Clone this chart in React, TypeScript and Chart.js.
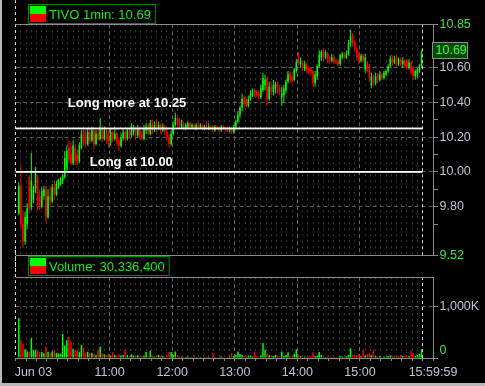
import { useEffect, useRef } from 'react';
import { Chart, registerables } from 'chart.js';

Chart.register(...registerables);

// ---------------- data ----------------
const symbolText = 'TIVO 1min: 10.69';
const volumeText = 'Volume: 30,336,400';
const lastPrice = 10.69;

// 2-minute candles starting 9:33 (minutes after 9:30)
const firstCandleMinute = 3;
const candleStepMinutes = 2;

const opens = [
  9.76, 9.92, 9.70, 9.60, 9.70, 9.97, 9.80, 9.84, 9.90, 9.97,
  9.86, 9.80, 9.86, 9.90, 9.74, 9.86, 9.83, 9.91, 9.87, 9.92,
  9.93, 9.95, 9.97, 10.02, 10.14, 10.10, 10.05, 10.14, 10.10, 10.06,
  10.14, 10.24, 10.22, 10.16, 10.23, 10.18, 10.24, 10.16, 10.22, 10.19,
  10.25, 10.19, 10.24, 10.22, 10.17, 10.23, 10.19, 10.22, 10.18, 10.15,
  10.20, 10.23, 10.19, 10.24, 10.21, 10.23, 10.25, 10.21, 10.25, 10.22,
  10.19, 10.24, 10.27, 10.22, 10.28, 10.24, 10.28, 10.25, 10.27, 10.24,
  10.26, 10.23, 10.20, 10.16, 10.22, 10.27, 10.31, 10.30, 10.26, 10.28,
  10.25, 10.26, 10.28, 10.26, 10.27, 10.25, 10.27, 10.26, 10.27, 10.25,
  10.26, 10.25, 10.26, 10.26, 10.24, 10.26, 10.25, 10.24, 10.26, 10.25,
  10.25, 10.24, 10.25, 10.23, 10.26, 10.29, 10.33, 10.37, 10.43, 10.42,
  10.38, 10.42, 10.44, 10.47, 10.46, 10.45, 10.43, 10.47, 10.50, 10.54,
  10.42, 10.49, 10.46, 10.48, 10.51, 10.48, 10.43, 10.44, 10.47, 10.52,
  10.57, 10.55, 10.53, 10.58, 10.68, 10.62, 10.63, 10.59, 10.62, 10.60,
  10.59, 10.58, 10.51, 10.55, 10.61, 10.66, 10.70, 10.66, 10.68, 10.66,
  10.64, 10.66, 10.64, 10.64, 10.62, 10.66, 10.68, 10.66, 10.68, 10.74,
  10.79, 10.75, 10.71, 10.68, 10.64, 10.67, 10.59, 10.63, 10.60, 10.50,
  10.55, 10.51, 10.56, 10.53, 10.56, 10.54, 10.56, 10.58, 10.61, 10.66,
  10.63, 10.66, 10.62, 10.65, 10.62, 10.64, 10.64, 10.60, 10.63, 10.60,
  10.55, 10.56, 10.58, 10.61,
];
const highs = [
  9.94, 10.04, 9.78, 9.77, 9.82, 9.98, 10.11, 9.92, 10.03, 9.98,
  9.90, 9.91, 9.92, 9.92, 9.90, 9.92, 9.93, 9.95, 9.95, 9.96,
  9.97, 9.99, 10.12, 10.15, 10.18, 10.17, 10.18, 10.16, 10.13, 10.17,
  10.24, 10.25, 10.24, 10.25, 10.25, 10.26, 10.25, 10.24, 10.25, 10.31,
  10.27, 10.26, 10.25, 10.24, 10.25, 10.24, 10.26, 10.23, 10.20, 10.22,
  10.25, 10.24, 10.25, 10.25, 10.28, 10.27, 10.26, 10.27, 10.26, 10.24,
  10.27, 10.28, 10.28, 10.30, 10.30, 10.29, 10.30, 10.29, 10.28, 10.28,
  10.27, 10.25, 10.22, 10.24, 10.29, 10.34, 10.32, 10.31, 10.30, 10.29,
  10.28, 10.29, 10.29, 10.28, 10.28, 10.28, 10.29, 10.28, 10.28, 10.27,
  10.29, 10.28, 10.27, 10.27, 10.27, 10.27, 10.26, 10.27, 10.27, 10.26,
  10.26, 10.26, 10.26, 10.27, 10.30, 10.35, 10.38, 10.45, 10.44, 10.43,
  10.44, 10.47, 10.48, 10.48, 10.47, 10.47, 10.50, 10.57, 10.56, 10.55,
  10.52, 10.52, 10.53, 10.52, 10.52, 10.50, 10.49, 10.50, 10.53, 10.58,
  10.58, 10.56, 10.60, 10.65, 10.69, 10.66, 10.64, 10.64, 10.63, 10.61,
  10.60, 10.59, 10.58, 10.62, 10.70, 10.70, 10.71, 10.70, 10.69, 10.67,
  10.68, 10.67, 10.65, 10.65, 10.68, 10.69, 10.69, 10.70, 10.76, 10.82,
  10.80, 10.76, 10.72, 10.69, 10.68, 10.68, 10.68, 10.64, 10.62, 10.57,
  10.56, 10.57, 10.57, 10.58, 10.57, 10.58, 10.59, 10.62, 10.67, 10.67,
  10.67, 10.67, 10.66, 10.66, 10.66, 10.65, 10.65, 10.65, 10.64, 10.61,
  10.59, 10.60, 10.62, 10.70,
];
const lows = [
  9.75, 9.68, 9.56, 9.58, 9.67, 9.76, 9.78, 9.82, 9.88, 9.78,
  9.78, 9.79, 9.84, 9.71, 9.73, 9.80, 9.82, 9.84, 9.86, 9.90,
  9.92, 9.93, 9.96, 10.00, 10.05, 10.04, 10.04, 10.04, 10.04, 10.05,
  10.13, 10.15, 10.14, 10.15, 10.16, 10.17, 10.13, 10.15, 10.18, 10.18,
  10.17, 10.18, 10.16, 10.14, 10.15, 10.17, 10.18, 10.15, 10.12, 10.14,
  10.18, 10.17, 10.18, 10.19, 10.20, 10.21, 10.19, 10.20, 10.19, 10.18,
  10.18, 10.22, 10.21, 10.21, 10.22, 10.23, 10.23, 10.24, 10.22, 10.23,
  10.21, 10.18, 10.14, 10.15, 10.21, 10.26, 10.26, 10.25, 10.25, 10.24,
  10.24, 10.25, 10.25, 10.25, 10.24, 10.24, 10.25, 10.25, 10.24, 10.24,
  10.24, 10.24, 10.24, 10.23, 10.23, 10.24, 10.23, 10.23, 10.24, 10.23,
  10.23, 10.23, 10.22, 10.22, 10.24, 10.28, 10.31, 10.35, 10.37, 10.37,
  10.37, 10.41, 10.43, 10.43, 10.43, 10.42, 10.42, 10.46, 10.47, 10.38,
  10.41, 10.44, 10.44, 10.45, 10.45, 10.44, 10.38, 10.40, 10.45, 10.51,
  10.51, 10.51, 10.52, 10.57, 10.61, 10.60, 10.58, 10.58, 10.57, 10.56,
  10.55, 10.49, 10.49, 10.53, 10.60, 10.64, 10.64, 10.65, 10.63, 10.62,
  10.63, 10.62, 10.62, 10.61, 10.61, 10.65, 10.65, 10.65, 10.67, 10.72,
  10.72, 10.69, 10.64, 10.62, 10.63, 10.63, 10.57, 10.57, 10.52, 10.48,
  10.49, 10.50, 10.51, 10.52, 10.53, 10.53, 10.55, 10.57, 10.60, 10.61,
  10.62, 10.61, 10.61, 10.61, 10.60, 10.60, 10.59, 10.59, 10.56, 10.53,
  10.53, 10.54, 10.57, 10.60,
];
const closes = [
  9.92, 9.70, 9.60, 9.74, 9.79, 9.79, 9.95, 9.90, 9.99, 9.82,
  9.80, 9.89, 9.90, 9.74, 9.86, 9.84, 9.91, 9.87, 9.93, 9.95,
  9.96, 9.98, 10.08, 10.12, 10.07, 10.05, 10.15, 10.06, 10.06, 10.15,
  10.22, 10.17, 10.16, 10.23, 10.18, 10.24, 10.16, 10.22, 10.19, 10.25,
  10.19, 10.24, 10.18, 10.17, 10.23, 10.19, 10.22, 10.17, 10.15, 10.20,
  10.23, 10.19, 10.24, 10.21, 10.26, 10.25, 10.21, 10.25, 10.20, 10.19,
  10.25, 10.26, 10.22, 10.28, 10.24, 10.27, 10.25, 10.27, 10.24, 10.26,
  10.23, 10.20, 10.16, 10.22, 10.27, 10.31, 10.28, 10.27, 10.28, 10.25,
  10.27, 10.28, 10.26, 10.27, 10.25, 10.27, 10.26, 10.27, 10.25, 10.26,
  10.25, 10.26, 10.25, 10.24, 10.26, 10.25, 10.24, 10.26, 10.25, 10.24,
  10.24, 10.25, 10.23, 10.26, 10.29, 10.33, 10.37, 10.42, 10.39, 10.38,
  10.42, 10.45, 10.47, 10.44, 10.44, 10.43, 10.48, 10.54, 10.53, 10.42,
  10.49, 10.46, 10.50, 10.50, 10.47, 10.46, 10.45, 10.48, 10.52, 10.56,
  10.53, 10.52, 10.59, 10.63, 10.63, 10.64, 10.60, 10.62, 10.58, 10.58,
  10.57, 10.51, 10.56, 10.61, 10.67, 10.69, 10.66, 10.69, 10.65, 10.64,
  10.66, 10.63, 10.63, 10.62, 10.67, 10.68, 10.66, 10.68, 10.74, 10.78,
  10.74, 10.71, 10.66, 10.64, 10.67, 10.64, 10.66, 10.58, 10.54, 10.55,
  10.51, 10.55, 10.53, 10.56, 10.54, 10.57, 10.58, 10.61, 10.65, 10.63,
  10.65, 10.62, 10.65, 10.62, 10.64, 10.61, 10.60, 10.63, 10.57, 10.55,
  10.58, 10.59, 10.61, 10.69,
];
// volume per candle, in thousands of shares
const volumesK = [
  770, 350, 270, 170, 130, 120, 380, 160, 150, 140,
  110, 120, 90, 220, 120, 90, 130, 160, 100, 90,
  80, 460, 240, 350, 410, 320, 180, 150, 140, 120,
  255, 200, 110, 120, 90, 100, 80, 60, 160, 220,
  90, 70, 60, 80, 50, 110, 60, 40, 70, 50,
  60, 160, 60, 40, 70, 50, 40, 60, 30, 40,
  50, 115, 40, 140, 50, 30, 40, 60, 30, 40,
  30, 50, 115, 115, 60, 127, 50, 40, 30, 20,
  20, 30, 20, 20, 50, 20, 15, 20, 15, 20,
  30, 20, 15, 95, 20, 15, 20, 30, 20, 15,
  20, 30, 95, 40, 60, 127, 80, 60, 40, 30,
  50, 40, 30, 127, 40, 30, 50, 290, 160, 90,
  60, 50, 40, 60, 40, 30, 127, 40, 60, 110,
  40, 30, 80, 170, 60, 40, 30, 30, 20, 40,
  30, 110, 40, 50, 115, 60, 30, 20, 30, 20,
  15, 30, 20, 15, 40, 30, 20, 40, 60, 190,
  60, 50, 60, 70, 40, 160, 50, 70, 90, 60,
  160, 40, 30, 40, 20, 30, 20, 40, 50, 40,
  30, 60, 30, 60, 40, 50, 30, 40, 140, 95,
  40, 60, 80, 170,
];

const priceMin = 9.52;
const priceMax = 10.85;
const priceTickValues = [9.52, 9.7, 9.8, 9.9, 10.0, 10.1, 10.2, 10.3, 10.4, 10.5, 10.6, 10.7, 10.85];
const priceTickLabels = ['9.52', '', '9.80', '', '10.00', '', '10.20', '', '10.40', '', '10.60', '', '10.85'];
const priceGridValues = [9.8, 10.0, 10.2, 10.4, 10.6];

const volumeMax = 1560000;
const volumeTickValues = [0, 1000000];
const volumeTickLabels = ['0', '1,000K'];
const volumeGridValues = [1000000];

const sessionMinutes = 390; // 9:30 -> 16:00
const axisMaxMinutes = 400;
const hourMinutes = [90, 150, 210, 270, 330];
const timeTickMinutes = [17, 90, 150, 210, 270, 330, 400];
const timeTickLabels = ['Jun 03', '11:00', '12:00', '13:00', '14:00', '15:00', '15:59:59'];

const annotationPrices = [10.25, 10.0];
const annotationTexts = ['Long more at 10.25', 'Long at 10.00'];
const annotationMinutes = [50, 71];

// ---------------- layout / style ----------------
const W = 485;
const H = 386;
const PRICE_CANVAS_H = 272;
const VOL_TOP = 250;
const VOL_CANVAS_H = 136;
const PLOT_LEFT = 15.7;
const AXIS_W = 52;
const FONT = "'Liberation Sans', Arial, sans-serif";
const UP = '#00ff00';
const DOWN = '#ff0000';
const AXIS_TEXT = '#bcc4d6';
const AXIS_GREEN = '#3fe23f';
const LEGEND_TEXT = '#1ee81e';
const FRAME = '#8a8a8a';
const ANNOT_TEXT_OFFSETS = [21, 6];

const candleX = opens.map((_, k) => firstCandleMinute + candleStepMinutes * k);
const candleColors = opens.map((o, k) => (closes[k] >= o ? UP : DOWN));

function vline(ctx: CanvasRenderingContext2D, x: number, y0: number, y1: number) {
  ctx.beginPath();
  ctx.moveTo(x, y0);
  ctx.lineTo(x, y1);
  ctx.stroke();
}
function hline(ctx: CanvasRenderingContext2D, y: number, x0: number, x1: number) {
  ctx.beginPath();
  ctx.moveTo(x0, y);
  ctx.lineTo(x1, y);
  ctx.stroke();
}
const snap = (v: number) => Math.floor(v) + 0.5;

function drawTimeGrid(ctx: CanvasRenderingContext2D, xs: any, top: number, bottom: number) {
  ctx.lineWidth = 1;
  for (let m = 5; m < sessionMinutes; m += 5) {
    const major = hourMinutes.includes(m);
    ctx.strokeStyle = major ? '#646464' : '#3a3a3a';
    ctx.setLineDash(major ? [4, 3] : [2, 4]);
    vline(ctx, snap(xs.getPixelForValue(m)), top, bottom);
  }
}

function drawLegend(ctx: CanvasRenderingContext2D, x: number, y: number, text: string) {
  ctx.save();
  ctx.setLineDash([]);
  ctx.font = `13px ${FONT}`;
  const w = ctx.measureText(text).width;
  ctx.strokeStyle = '#008c00';
  ctx.lineWidth = 1;
  ctx.strokeRect(x + 0.5, y + 0.5, 21 + w + 4, 19);
  ctx.fillStyle = UP;
  ctx.fillRect(x + 2, y + 2, 16, 8);
  ctx.fillStyle = DOWN;
  ctx.fillRect(x + 2, y + 10, 16, 8);
  ctx.fillStyle = LEGEND_TEXT;
  ctx.textBaseline = 'alphabetic';
  ctx.textAlign = 'left';
  ctx.fillText(text, x + 21, y + 15);
  ctx.restore();
}

const priceDecor = {
  id: 'priceDecor',
  beforeDatasetsDraw(chart: any) {
    const { ctx, chartArea: a } = chart;
    const xs = chart.scales.x;
    const ys = chart.scales.y;
    ctx.save();
    drawTimeGrid(ctx, xs, a.top, a.bottom);
    ctx.setLineDash([4, 3]);
    ctx.strokeStyle = '#5c5c5c';
    for (const v of priceGridValues) hline(ctx, snap(ys.getPixelForValue(v)), a.left, a.right);
    ctx.setLineDash([3, 3]);
    ctx.strokeStyle = '#d8d8d8';
    vline(ctx, snap(xs.getPixelForValue(0)), 0, chart.height);
    vline(ctx, snap(xs.getPixelForValue(sessionMinutes)), a.top, a.bottom);
    ctx.setLineDash([]);
    ctx.strokeStyle = FRAME;
    hline(ctx, snap(a.top), a.left, a.right);
    hline(ctx, snap(a.bottom), a.left, a.right);
    ctx.restore();
  },
  afterDatasetsDraw(chart: any) {
    const { ctx } = chart;
    const xs = chart.scales.x;
    const ys = chart.scales.y;
    ctx.save();
    const x0 = xs.getPixelForValue(0);
    const x1 = xs.getPixelForValue(sessionMinutes);
    ctx.fillStyle = '#ffffff';
    annotationPrices.forEach((p, i) => {
      const py = ys.getPixelForValue(p);
      ctx.fillRect(x0, py - 0.9, x1 - x0, 1.8);
      ctx.font = `bold 13px ${FONT}`;
      ctx.textBaseline = 'alphabetic';
      ctx.textAlign = 'left';
      ctx.fillText(annotationTexts[i], xs.getPixelForValue(annotationMinutes[i]), py - ANNOT_TEXT_OFFSETS[i]);
    });
    // last price marker
    const lp = ys.getPixelForValue(lastPrice) - 2;
    ctx.fillStyle = '#064806';
    ctx.fillRect(432, lp - 8, 36, 16.5);
    ctx.strokeStyle = '#8c8c8c';
    ctx.lineWidth = 1;
    ctx.strokeRect(432.5, Math.round(lp - 8) + 0.5, 35, 16);
    ctx.fillStyle = '#3cff3c';
    ctx.font = `12.5px ${FONT}`;
    ctx.textBaseline = 'middle';
    ctx.fillText(lastPrice.toFixed(2), 435.5, lp + 0.5);
    ctx.restore();
    drawLegend(ctx, 28, 4, symbolText);
  },
};

const volumeDecor = {
  id: 'volumeDecor',
  beforeDatasetsDraw(chart: any) {
    const { ctx, chartArea: a } = chart;
    const xs = chart.scales.x;
    const ys = chart.scales.y;
    ctx.save();
    drawTimeGrid(ctx, xs, a.top, a.bottom);
    ctx.setLineDash([4, 3]);
    ctx.strokeStyle = '#5c5c5c';
    for (const v of volumeGridValues) hline(ctx, snap(ys.getPixelForValue(v)), a.left, a.right);
    ctx.setLineDash([3, 3]);
    ctx.strokeStyle = '#d8d8d8';
    vline(ctx, snap(xs.getPixelForValue(0)), 0, a.bottom);
    vline(ctx, snap(xs.getPixelForValue(sessionMinutes)), a.top, a.bottom);
    ctx.setLineDash([]);
    ctx.strokeStyle = FRAME;
    hline(ctx, snap(a.top), a.left, a.right);
    for (let m = 0; m <= axisMaxMinutes; m += 10) {
      vline(ctx, snap(xs.getPixelForValue(m)), a.bottom, a.bottom + 3);
    }
    ctx.restore();
  },
  afterDatasetsDraw(chart: any) {
    drawLegend(chart.ctx, 28, 6, volumeText);
  },
};

const tickColor = (n: number) => (c: any) => (c.index === 0 || c.index === n - 1 ? AXIS_GREEN : AXIS_TEXT);

export default function App() {
  const pRef = useRef<HTMLCanvasElement>(null);
  const vRef = useRef<HTMLCanvasElement>(null);

  useEffect(() => {
    document.body.style.margin = '0';
    document.body.style.background = '#000';

    const wicks = candleX.map((x, k) => ({ x, y: [lows[k], highs[k]] }));
    const bodies = candleX.map((x, k) => ({ x, y: [opens[k], closes[k]] }));

    const price = new Chart(pRef.current as HTMLCanvasElement, {
      type: 'bar',
      data: {
        datasets: [
          { data: wicks as any, backgroundColor: candleColors, barThickness: 1, inflateAmount: 0, grouped: false, order: 2 } as any,
          { data: bodies as any, backgroundColor: candleColors, barThickness: 1.5, inflateAmount: 0, minBarLength: 1, grouped: false, order: 1 } as any,
        ],
      },
      options: {
        animation: false,
        responsive: false,
        devicePixelRatio: 1,
        events: [],
        layout: { padding: { left: PLOT_LEFT, top: 24.2, right: 0, bottom: PRICE_CANVAS_H - 255.3 } },
        plugins: { legend: { display: false }, tooltip: { enabled: false } },
        scales: {
          x: { type: 'linear', min: 0, max: axisMaxMinutes, offset: false, display: false },
          y: {
            position: 'right',
            min: priceMin,
            max: priceMax,
            afterFit: (s: any) => { s.width = AXIS_W; },
            afterBuildTicks: (s: any) => { s.ticks = priceTickValues.map((v) => ({ value: v })); },
            ticks: {
              autoSkip: false,
              callback: (_v: any, i: number) => priceTickLabels[i],
              color: tickColor(priceTickValues.length),
              font: { family: FONT, size: 12.5 },
              padding: 1.5,
            },
            grid: { drawOnChartArea: false, drawTicks: true, tickLength: 5, color: FRAME, tickColor: FRAME },
            border: { display: true, color: FRAME },
          } as any,
        },
      },
      plugins: [priceDecor],
    });

    const volumes = candleX.map((x, k) => ({ x, y: volumesK[k] * 1000 }));
    const volume = new Chart(vRef.current as HTMLCanvasElement, {
      type: 'bar',
      data: {
        datasets: [
          { data: volumes as any, backgroundColor: candleColors, barThickness: 1.5, inflateAmount: 0, grouped: false } as any,
        ],
      },
      options: {
        animation: false,
        responsive: false,
        devicePixelRatio: 1,
        events: [],
        layout: { padding: { left: PLOT_LEFT, top: 27, right: 0, bottom: 0 } },
        plugins: { legend: { display: false }, tooltip: { enabled: false } },
        scales: {
          x: {
            type: 'linear',
            min: 0,
            max: axisMaxMinutes,
            offset: false,
            position: 'bottom',
            afterBuildTicks: (s: any) => { s.ticks = timeTickMinutes.map((v) => ({ value: v })); },
            afterFit: (s: any) => { s.height = 28; },
            ticks: {
              autoSkip: false,
              maxRotation: 0,
              minRotation: 0,
              callback: (_v: any, i: number) => timeTickLabels[i],
              color: AXIS_TEXT,
              font: { family: FONT, size: 12.5 },
              padding: 7,
            },
            grid: { display: false, drawTicks: false },
            border: { display: true, color: FRAME },
          } as any,
          y: {
            position: 'right',
            min: 0,
            max: volumeMax,
            afterFit: (s: any) => { s.width = AXIS_W; },
            afterBuildTicks: (s: any) => { s.ticks = volumeTickValues.map((v) => ({ value: v })); },
            ticks: {
              autoSkip: false,
              callback: (_v: any, i: number) => (i === 0 ? [volumeTickLabels[0], ''] : volumeTickLabels[i]),
              color: (c: any) => (c.index === 0 ? AXIS_GREEN : AXIS_TEXT),
              font: { family: FONT, size: 12.5 },
              padding: 1.5,
            },
            grid: { drawOnChartArea: false, drawTicks: true, tickLength: 5, color: FRAME, tickColor: FRAME },
            border: { display: true, color: FRAME },
          } as any,
        },
      },
      plugins: [volumeDecor],
    });

    return () => {
      price.destroy();
      volume.destroy();
    };
  }, []);

  return (
    <div style={{ position: 'relative', width: W, height: H, background: '#000', overflow: 'hidden' }}>
      <canvas ref={pRef} width={W} height={PRICE_CANVAS_H} style={{ position: 'absolute', left: 0, top: 0 }} />
      <canvas ref={vRef} width={W} height={VOL_CANVAS_H} style={{ position: 'absolute', left: 0, top: VOL_TOP }} />
      <div
        style={{
          position: 'absolute', left: 0, top: 0, width: W, height: H, boxSizing: 'border-box',
          borderLeft: '2px solid #b8b8b8', borderBottom: '3px solid #b8b8b8', pointerEvents: 'none',
        }}
      />
    </div>
  );
}
